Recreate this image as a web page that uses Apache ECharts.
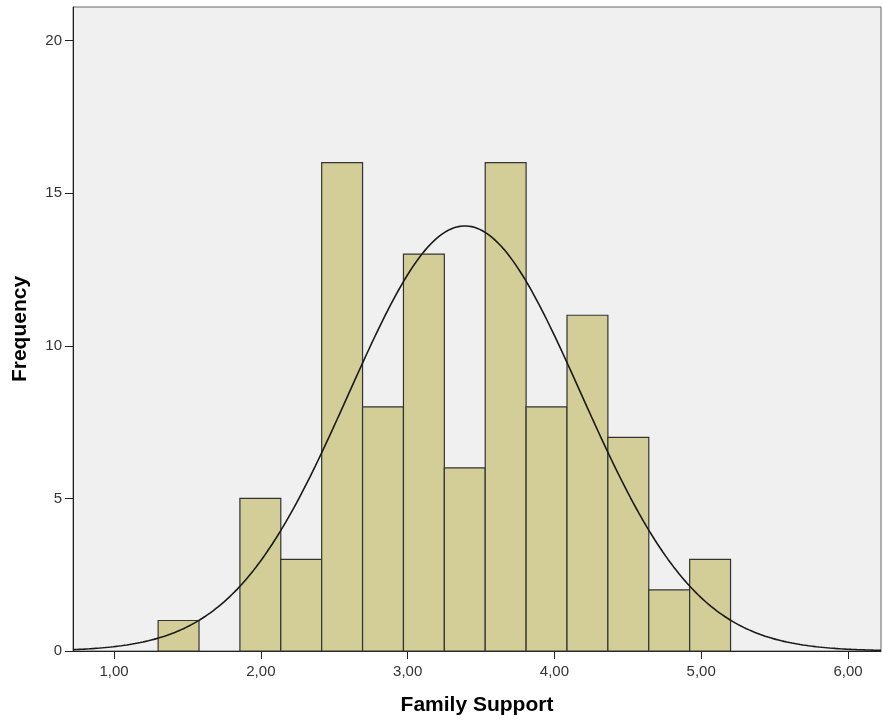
<!DOCTYPE html>
<html>
<head>
<meta charset="utf-8">
<script src="https://cdn.jsdelivr.net/npm/echarts@6/dist/echarts.min.js"></script>
<style>html,body{margin:0;padding:0;background:#fff}#c{width:882px;height:726px}</style>
</head>
<body>
<div id="c"></div>
<script>
// Histogram data
const binStart = 1.30;
const binWidth = 0.27857;
const counts = [1, 0, 5, 3, 16, 8, 13, 6, 16, 8, 11, 7, 2, 3];
// Fitted normal curve parameters
const curveMean = 3.39;
const curveSD = 0.79;
const curveN = 99;
// Tick labels
const xTicks = [1, 2, 3, 4, 5, 6];
const yTicks = [0, 5, 10, 15, 20];
const xMin = 0.72, xMax = 6.225, yMax = 21.1;

const bars = counts.map((c, i) => [binStart + i * binWidth, binStart + (i + 1) * binWidth, c]).filter(d => d[2] > 0);
const curve = [];
for (let i = 0; i <= 300; i++) {
  const x = xMin + (xMax - xMin) * i / 300;
  const z = (x - curveMean) / curveSD;
  curve.push([x, curveN * binWidth / (curveSD * Math.sqrt(2 * Math.PI)) * Math.exp(-0.5 * z * z)]);
}

const chart = echarts.init(document.getElementById('c'));
chart.setOption({
  animation: false,
  textStyle: { fontFamily: 'Liberation Sans, Arial, sans-serif' },
  grid: { left: 73, right: 1, top: 7, bottom: 75, show: true, backgroundColor: '#f0f0f0', borderColor: '#666', borderWidth: 1 },
  xAxis: {
    type: 'value', min: xMin, max: xMax,
    name: 'Family Support', nameLocation: 'middle', nameGap: 44,
    nameTextStyle: { fontSize: 21, fontWeight: 'bold', color: '#000' },
    splitLine: { show: false },
    axisLine: { show: true, onZero: false, lineStyle: { color: '#222', width: 1 } },
    axisTick: { show: true, length: 8, customValues: xTicks, lineStyle: { color: '#222' } },
    axisLabel: { customValues: xTicks, color: '#333', fontSize: 15, margin: 13, formatter: v => v.toFixed(2).replace('.', ',') }
  },
  yAxis: {
    type: 'value', min: 0, max: yMax,
    name: 'Frequency', nameLocation: 'middle', nameGap: 42,
    nameTextStyle: { fontSize: 21, fontWeight: 'bold', color: '#000' },
    splitLine: { show: false },
    axisLine: { show: true, lineStyle: { color: '#222', width: 1 } },
    axisTick: { show: true, length: 8, customValues: yTicks, lineStyle: { color: '#222' } },
    axisLabel: { customValues: yTicks, color: '#333', fontSize: 15, margin: 11 }
  },
  series: [
    {
      type: 'custom',
      data: bars,
      renderItem: (params, api) => {
        const p0 = api.coord([api.value(0), 0]);
        const p1 = api.coord([api.value(1), api.value(2)]);
        return {
          type: 'rect',
          shape: { x: p0[0], y: p1[1], width: p1[0] - p0[0], height: p0[1] - p1[1] },
          style: { fill: '#d3ce97', stroke: '#333', lineWidth: 1.2 }
        };
      },
      encode: { x: [0, 1], y: 2 },
      z: 2
    },
    {
      type: 'line', data: curve, showSymbol: false, smooth: false,
      lineStyle: { color: '#1a1a1a', width: 1.6 }, z: 3
    }
  ]
});
</script>
</body>
</html>
